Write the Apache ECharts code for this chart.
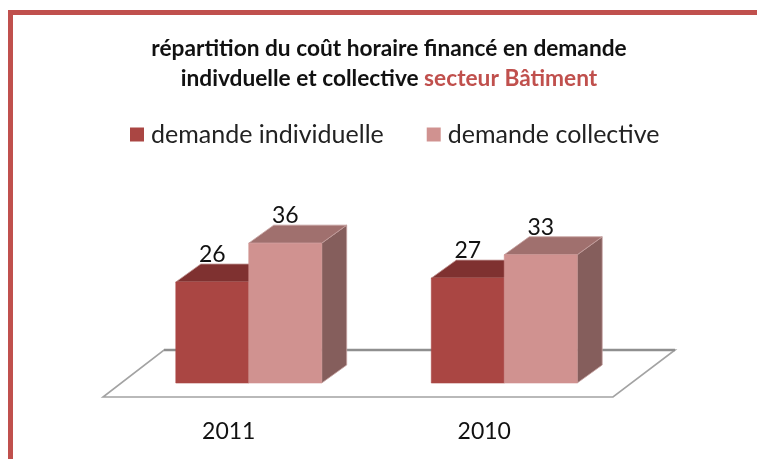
<!DOCTYPE html>
<html><head><meta charset="utf-8">
<style>html,body{margin:0;padding:0;background:#fff}#c{width:757px;height:459px}</style>
<script src="https://cdn.jsdelivr.net/npm/echarts@6/dist/echarts.min.js"></script>
</head><body><div id="c"></div>
<script>
const categories = ['2011', '2010'];
const individuelle = [26, 27];
const collective = [36, 33];
const seriesNames = ['demande individuelle', 'demande collective'];
const titleLine1 = 'répartition du coût horaire financé en demande';
const titleLine2a = 'indivduelle et collective ';
const titleLine2b = 'secteur Bâtiment';

const FONT = 'Lato';
const DX = 25, DY = -18, BAR_RATIO = 0.2855;
const palette = [
  {front:'#aa4643', top:'#7f3130', side:'#6f3533', edge:'#c49a98'},
  {front:'#d09290', top:'#a0706e', side:'#855e5c', edge:'#c4a09e'}
];
function bar3d(slot){
  return function(params, api){
    const cat = api.value(0), val = api.value(1);
    const top = api.coord([cat, val]), base = api.coord([cat, 0]);
    const w = api.size([1,0])[0]*BAR_RATIO;
    const x0 = top[0] + (slot-1)*w, x1 = x0 + w, y0 = top[1], y1 = base[1];
    const c = palette[slot];
    const poly = (pts, fill, stroke, lw) => ({type:'polygon', shape:{points:pts},
      style:{fill:fill, stroke:stroke||fill, lineWidth:lw===undefined?1:lw}});
    return {type:'group', children:[
      poly([[x1,y0],[x1+DX,y0+DY],[x1+DX,y1+DY],[x1,y1]], c.side, c.edge, 0.8),
      poly([[x0,y0],[x0+DX,y0+DY],[x1+DX,y0+DY],[x1,y0]], c.top, c.edge, 0.8),
      poly([[x0,y0],[x1,y0],[x1,y1],[x0,y1]], c.front, c.front, 0.6),
      {type:'text', style:{text:String(val), x:(x0+x1)/2, y:y0+DY+2,
        align:'center', verticalAlign:'bottom', fill:'#111', font:'23px '+FONT}}
    ]};
  };
}
function floor(params, api){
  const cs = params.coordSys, b = api.coord([0,0])[1], l = cs.x, r = cs.x+cs.width;
  return {type:'group', children:[
    {type:'polygon', shape:{points:[[l-18,b+14],[r-19,b+14],[r+43,b-33],[l+43,b-33]]},
      style:{fill:'#fff', stroke:'#a3a3a3', lineWidth:1.6}},
    {type:'line', shape:{x1:l+43,y1:b-33,x2:r+43,y2:b-33}, style:{stroke:'#8f8f8f', lineWidth:2.4}}
  ]};
}
const chart = echarts.init(document.getElementById('c'), null, {renderer:'canvas'});
chart.setOption({
  animation:false,
  backgroundColor:'#fff',
  graphic:[{type:'rect', z:100, silent:true, shape:{x:10.5,y:12.5,width:800,height:500},
    style:{fill:'none', stroke:'#c0504d', lineWidth:5}}],
  title:{
    left:384, top:29, textAlign:'center',
    text:'{b|'+titleLine1+'}\n{b|'+titleLine2a+'}{r|'+titleLine2b+'}',
    textStyle:{rich:{
      b:{fontFamily:FONT, fontWeight:'bold', fontSize:22.7, color:'#111', lineHeight:30},
      r:{fontFamily:FONT, fontWeight:'bold', fontSize:22.7, color:'#c0504d', lineHeight:30}
    }}
  },
  legend:{
    left:130, top:122, padding:0, itemWidth:14, itemHeight:14, itemGap:43, icon:'rect',
    data:seriesNames,
    textStyle:{fontFamily:FONT, fontSize:25, color:'#222', padding:[0,0,0,2]}
  },
  grid:{left:121, right:125, top:227.6, bottom:76},
  xAxis:{type:'category', data:categories, axisLine:{show:false}, axisTick:{show:false},
    axisLabel:{fontFamily:FONT, fontSize:23, color:'#111', margin:37, padding:[0,40,0,0]}},
  yAxis:{type:'value', min:0, max:40, show:false, splitLine:{show:false}},
  series:[
    {type:'custom', silent:true, z:1, renderItem:floor, data:[[0,0]], encode:{x:0,y:1}, legendHoverLink:false},
    {type:'custom', name:seriesNames[0], z:2, itemStyle:{color:palette[0].front}, renderItem:bar3d(0),
      data:individuelle.map((v,i)=>[i,v]), encode:{x:0,y:1}, clip:false},
    {type:'custom', name:seriesNames[1], z:3, itemStyle:{color:palette[1].front}, renderItem:bar3d(1),
      data:collective.map((v,i)=>[i,v]), encode:{x:0,y:1}, clip:false}
  ]
});
</script></body></html>
